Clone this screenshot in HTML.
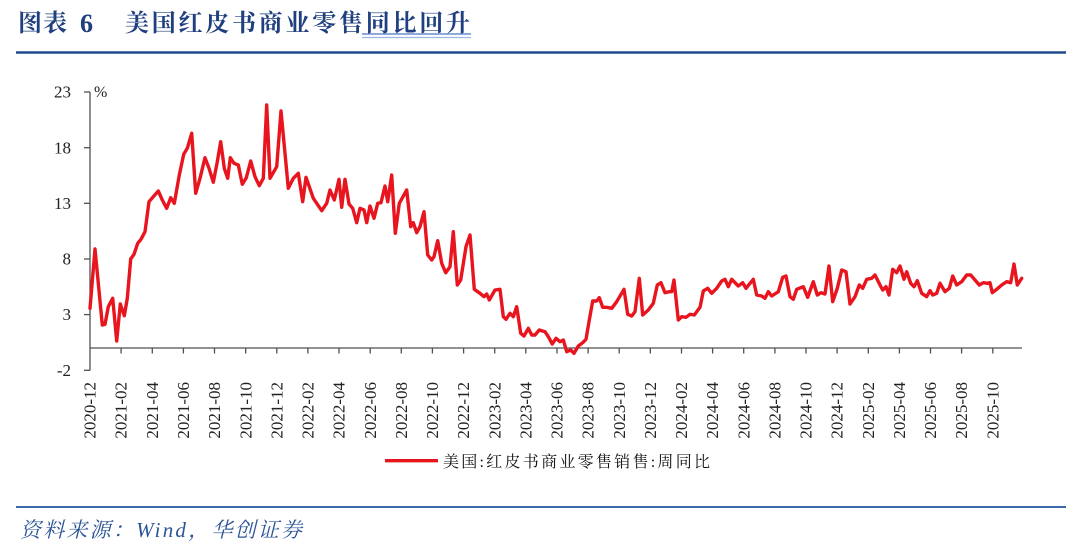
<!DOCTYPE html>
<html>
<head>
<meta charset="utf-8">
<style>
  html,body{margin:0;padding:0;background:#fff;}
  body{width:1080px;height:544px;overflow:hidden;}
  svg{display:block;}
</style>
</head>
<body>
<svg width="1080" height="544" viewBox="0 0 1080 544" xmlns="http://www.w3.org/2000/svg">
  <rect x="0" y="0" width="1080" height="544" fill="#fff"/>

  <!-- Title -->
  <g font-family="'Liberation Serif','Noto Serif CJK SC',serif" font-weight="bold" fill="#1f3f7f">
    <text x="18" y="31" font-size="24" letter-spacing="1">图表</text>
    <text x="80" y="32" font-size="26">6</text>
    <text x="125" y="31" font-size="24" textLength="345" lengthAdjust="spacing">美国红皮书商业零售同比回升</text>
  </g>
  <line x1="362" y1="34" x2="471" y2="34" stroke="#4a78c8" stroke-width="1.2"/>
  <line x1="362" y1="37.5" x2="471" y2="37.5" stroke="#9ab8e8" stroke-width="1.2"/>

  <!-- Top rule -->
  <line x1="16" y1="52.5" x2="1066" y2="52.5" stroke="#1f4b8f" stroke-width="2.4"/>

  <!-- Axes -->
  <g stroke="#505050" stroke-width="1.3" fill="none">
    <line x1="90" y1="92" x2="90" y2="370.5"/>
    <line x1="90" y1="348" x2="1022" y2="348"/>
    <line x1="84" y1="92" x2="90" y2="92"/>
    <line x1="84" y1="147.7" x2="90" y2="147.7"/>
    <line x1="84" y1="203.3" x2="90" y2="203.3"/>
    <line x1="84" y1="259" x2="90" y2="259"/>
    <line x1="84" y1="314.6" x2="90" y2="314.6"/>
    <line x1="84" y1="370.3" x2="90" y2="370.3"/>
  </g>

  <!-- Y labels -->
  <g font-family="'Liberation Serif',serif" font-size="17" fill="#222" text-anchor="end">
    <text x="71" y="97.6">23</text>
    <text x="71" y="153.3">18</text>
    <text x="71" y="208.9">13</text>
    <text x="71" y="264.6">8</text>
    <text x="71" y="320.2">3</text>
    <text x="71" y="375.9">-2</text>
  </g>
  <text x="94" y="97" font-family="'Liberation Serif',serif" font-size="16" fill="#222">%</text>

  <!-- Series -->
  <polyline fill="none" stroke="#e8141e" stroke-width="3.4" stroke-linejoin="round" stroke-linecap="round"
    points="90,308.3 95,249 102.3,325 105,324.3 108.3,306.7 112.7,298.3 116.7,341 120.3,304 124.3,315.7 127.3,298.3 130.7,259 134,254.3 137.7,243.3 141,239.3 145,231.7 149,201.7 153.3,196.7 158.3,191 162.3,200 166.7,208.3 170.7,197.7 174.3,203.3 179.3,175 183.7,154.3 187.3,148.3 191.7,133.3 195.7,193.3 200,178.3 205,157.7 209,168.3 213.3,182.3 217.3,161.7 220.7,141.7 224.3,168.3 227.7,178.3 230.3,157.7 234,163.3 238.3,165 242.3,184.3 246.3,177.7 250.7,161 255,176.7 259.3,185.7 263.3,178.3 266.7,105 270,178.3 276.7,166.7 281,111 288.3,188.3 293.3,178.3 298.3,173.3 302.7,201.7 306,177.3 313.3,198.3 321.7,210.7 326.7,203.3 330,190 334.3,200 339,179.3 341.7,207.3 345,179.3 349,204 352.7,208.3 356.7,222.7 360,208.3 364,210 366.7,222.7 370,206 374,218.3 377.7,203.3 381,202.7 385,186 387.7,201.7 391.7,175 395.3,233.3 399.3,203.3 406.7,190 410.7,226.7 413.3,222.7 416.7,232.7 420,226.7 424,211.7 427.7,255 431.7,260 434,256.7 437.7,240.7 441.7,263.3 445.7,272.7 450,266.7 453.3,231.7 457.3,285 460.7,280 466,246.7 470,235 474.3,289.3 480,293.3 484,296.7 486.7,294 489.3,300 495,290 500,289.3 503.3,316.7 506,319.3 510,313.3 513.3,316.7 516.7,306.7 520.7,333.3 524,336 528.3,328.3 531.7,335 535,335 539.3,330 545,331.7 548.3,336.7 552.3,344 556,338.3 560,341.7 563.3,340 566.7,351.7 570.7,350 574,353.3 578.3,346 582.7,342.7 586,339.3 589.3,320 592.7,301 596.7,301 599.3,297.7 602.7,307.3 606.7,307.3 611.7,308.3 616.7,301.7 624,289.3 627.7,314.3 631.7,316 635,311.7 639.3,278.3 642.7,315 648.3,310 653.3,303.3 657.3,285 661,282.7 665,292.7 669.3,291.7 671.7,291.7 674,280 678.3,320 681.7,316.7 686,317.3 690,314.3 694.3,315 700,307.3 703.3,291 707.7,288.3 711.7,293.3 716.7,288.3 721.7,281 725,279.3 728.3,286.7 731.7,279.3 738.3,286 742.7,282.7 746,288.3 753.3,279.3 756.7,295 761.7,296 765,298.3 768.3,291.7 771.7,296 778.3,291.7 782.7,277.3 786,276 790,296.7 793.3,299.3 796.7,289.3 803.3,286.7 807.7,297.3 813.3,281.7 817.3,295 821,292.7 825,294 829,266 832.7,301.7 837.3,288.3 841.7,270 846,271.7 850,304 855,296.7 859.3,285 862.7,288.3 866.7,279.3 871.7,278.3 875,275 880,285 882.7,290 886,286.7 889,295 892.7,269.3 896.7,272.7 900,266 904,279.3 906.7,271.7 910.7,283.3 914,286.7 917.3,280.7 921.7,293.3 926.7,296.7 930,290.7 932.7,295 936.7,293.3 940,283.3 945,291.7 949.3,288.3 952.7,276 956.7,285 961.7,281.7 966.7,275 970.7,275 975,280 979.3,285 983.3,282.7 987.3,283.3 990,282.7 992.3,292.7 996.7,289.3 1001.7,285 1006.7,281.7 1010.7,282.7 1014,264 1017.3,285 1021.7,278.3"/>

  <!-- Legend -->
  <line x1="385" y1="460.7" x2="438" y2="460.7" stroke="#e8141e" stroke-width="3.4"/>
  <text x="443" y="467" font-family="'Liberation Serif','Noto Serif CJK SC',serif" font-size="16" fill="#111" textLength="267" lengthAdjust="spacing">美国:红皮书商业零售销售:周同比</text>

  <!-- Bottom rule -->
  <line x1="16" y1="507" x2="1066" y2="507" stroke="#3a6aad" stroke-width="2"/>

  <!-- Source -->
  <text x="20" y="537" font-family="'Liberation Serif','Noto Serif CJK SC',serif" font-size="21" font-style="italic" fill="#2b5597" textLength="282" lengthAdjust="spacing">资料来源：Wind，华创证券</text>

  <!-- X ticks -->
  <g stroke="#505050" stroke-width="1.3">
    <line x1="121.1" y1="348" x2="121.1" y2="353.5"/>
    <line x1="152.3" y1="348" x2="152.3" y2="353.5"/>
    <line x1="183.4" y1="348" x2="183.4" y2="353.5"/>
    <line x1="214.5" y1="348" x2="214.5" y2="353.5"/>
    <line x1="245.7" y1="348" x2="245.7" y2="353.5"/>
    <line x1="276.8" y1="348" x2="276.8" y2="353.5"/>
    <line x1="307.9" y1="348" x2="307.9" y2="353.5"/>
    <line x1="339" y1="348" x2="339" y2="353.5"/>
    <line x1="370.2" y1="348" x2="370.2" y2="353.5"/>
    <line x1="401.3" y1="348" x2="401.3" y2="353.5"/>
    <line x1="432.4" y1="348" x2="432.4" y2="353.5"/>
    <line x1="463.6" y1="348" x2="463.6" y2="353.5"/>
    <line x1="494.7" y1="348" x2="494.7" y2="353.5"/>
    <line x1="525.8" y1="348" x2="525.8" y2="353.5"/>
    <line x1="557" y1="348" x2="557" y2="353.5"/>
    <line x1="588.1" y1="348" x2="588.1" y2="353.5"/>
    <line x1="619.2" y1="348" x2="619.2" y2="353.5"/>
    <line x1="650.3" y1="348" x2="650.3" y2="353.5"/>
    <line x1="681.5" y1="348" x2="681.5" y2="353.5"/>
    <line x1="712.6" y1="348" x2="712.6" y2="353.5"/>
    <line x1="743.7" y1="348" x2="743.7" y2="353.5"/>
    <line x1="774.9" y1="348" x2="774.9" y2="353.5"/>
    <line x1="806" y1="348" x2="806" y2="353.5"/>
    <line x1="837.1" y1="348" x2="837.1" y2="353.5"/>
    <line x1="868.3" y1="348" x2="868.3" y2="353.5"/>
    <line x1="899.4" y1="348" x2="899.4" y2="353.5"/>
    <line x1="930.5" y1="348" x2="930.5" y2="353.5"/>
    <line x1="961.6" y1="348" x2="961.6" y2="353.5"/>
    <line x1="992.8" y1="348" x2="992.8" y2="353.5"/>
  </g>
  <!-- X labels -->
  <g font-family="'Liberation Serif',serif" font-size="17" fill="#222" text-anchor="end">
    <text transform="translate(95.6,382) rotate(-90)">2020-12</text>
    <text transform="translate(126.7,382) rotate(-90)">2021-02</text>
    <text transform="translate(157.9,382) rotate(-90)">2021-04</text>
    <text transform="translate(189,382) rotate(-90)">2021-06</text>
    <text transform="translate(220.1,382) rotate(-90)">2021-08</text>
    <text transform="translate(251.3,382) rotate(-90)">2021-10</text>
    <text transform="translate(282.4,382) rotate(-90)">2021-12</text>
    <text transform="translate(313.5,382) rotate(-90)">2022-02</text>
    <text transform="translate(344.6,382) rotate(-90)">2022-04</text>
    <text transform="translate(375.8,382) rotate(-90)">2022-06</text>
    <text transform="translate(406.9,382) rotate(-90)">2022-08</text>
    <text transform="translate(438,382) rotate(-90)">2022-10</text>
    <text transform="translate(469.2,382) rotate(-90)">2022-12</text>
    <text transform="translate(500.3,382) rotate(-90)">2023-02</text>
    <text transform="translate(531.4,382) rotate(-90)">2023-04</text>
    <text transform="translate(562.6,382) rotate(-90)">2023-06</text>
    <text transform="translate(593.7,382) rotate(-90)">2023-08</text>
    <text transform="translate(624.8,382) rotate(-90)">2023-10</text>
    <text transform="translate(655.9,382) rotate(-90)">2023-12</text>
    <text transform="translate(687.1,382) rotate(-90)">2024-02</text>
    <text transform="translate(718.2,382) rotate(-90)">2024-04</text>
    <text transform="translate(749.3,382) rotate(-90)">2024-06</text>
    <text transform="translate(780.5,382) rotate(-90)">2024-08</text>
    <text transform="translate(811.6,382) rotate(-90)">2024-10</text>
    <text transform="translate(842.7,382) rotate(-90)">2024-12</text>
    <text transform="translate(873.9,382) rotate(-90)">2025-02</text>
    <text transform="translate(905,382) rotate(-90)">2025-04</text>
    <text transform="translate(936.1,382) rotate(-90)">2025-06</text>
    <text transform="translate(967.2,382) rotate(-90)">2025-08</text>
    <text transform="translate(998.4,382) rotate(-90)">2025-10</text>
  </g>
</svg>
</body>
</html>
